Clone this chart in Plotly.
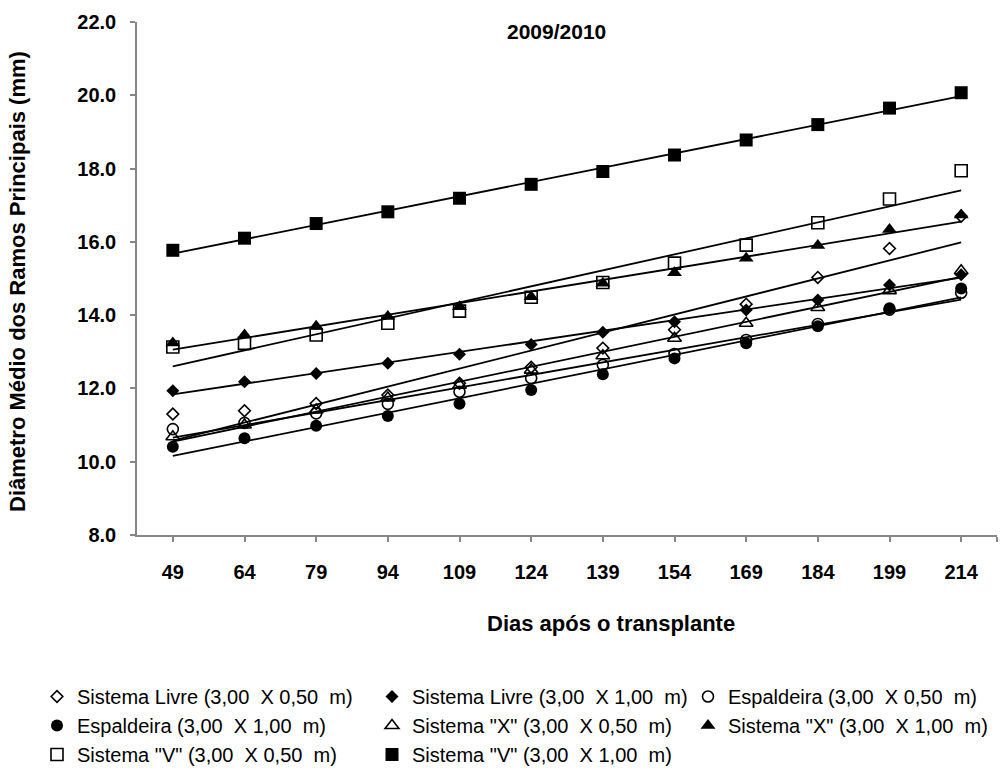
import numpy as np
import plotly.graph_objects as go

# ---------------- data ----------------
days = [49, 64, 79, 94, 109, 124, 139, 154, 169, 184, 199, 214]
day_labels = [str(d) for d in days]

livre_050 = [11.30, 11.39, 11.59, 11.82, 12.14, 12.58, 13.10, 13.60, 14.30, 15.03, 15.82, 16.70]
livre_100 = [11.94, 12.18, 12.41, 12.69, 12.93, 13.20, 13.53, 13.82, 14.14, 14.41, 14.82, 15.10]
esp_050 = [10.89, 11.06, 11.32, 11.58, 11.91, 12.28, 12.64, 12.94, 13.32, 13.76, 14.15, 14.61]
esp_100 = [10.41, 10.64, 10.98, 11.25, 11.58, 11.96, 12.39, 12.82, 13.23, 13.70, 14.19, 14.73]
x_050 = [10.68, 11.00, 11.41, 11.74, 12.09, 12.50, 12.89, 13.37, 13.78, 14.21, 14.67, 15.21]
x_100 = [13.24, 13.46, 13.70, 13.96, 14.23, 14.50, 14.87, 15.16, 15.55, 15.90, 16.34, 16.73]
v_050 = [13.13, 13.23, 13.46, 13.78, 14.11, 14.49, 14.89, 15.42, 15.91, 16.52, 17.17, 17.94]
v_100 = [15.77, 16.10, 16.50, 16.82, 17.19, 17.57, 17.92, 18.37, 18.78, 19.20, 19.65, 20.07]

series_names = [
    'Sistema Livre (3,00  X 0,50  m)',
    'Sistema Livre (3,00  X 1,00  m)',
    'Espaldeira (3,00  X 0,50  m)',
    'Espaldeira (3,00  X 1,00  m)',
    'Sistema "X" (3,00  X 0,50  m)',
    'Sistema "X" (3,00  X 1,00  m)',
    'Sistema "V" (3,00  X 0,50  m)',
    'Sistema "V" (3,00  X 1,00  m)',
]
series_values = [livre_050, livre_100, esp_050, esp_100, x_050, x_100, v_050, v_100]

y_ticks = [8, 10, 12, 14, 16, 18, 20, 22]

# ---------------- styles ----------------
symbols = ['diamond-open', 'diamond', 'circle-open', 'circle',
           'triangle-up-open', 'triangle-up', 'square-open', 'square']
sizes = [9, 10, 11, 12, 12, 13, 12, 13]
legend_ids = ['legend', 'legend2', 'legend3', 'legend', 'legend2', 'legend3', 'legend', 'legend2']

FONT = 'Liberation Sans, Arial, sans-serif'
AXIS_GRAY = '#868686'

fig = go.Figure()

x_arr = np.array(days, dtype=float)
# trend lines (linear fits)
for vals in series_values:
    coef = np.polyfit(x_arr, np.array(vals), 1)
    xs = [days[0], days[-1]]
    ys = [float(np.polyval(coef, days[0])), float(np.polyval(coef, days[-1]))]
    fig.add_trace(go.Scatter(x=xs, y=ys, mode='lines',
                             line=dict(color='black', width=1.8),
                             showlegend=False, hoverinfo='skip'))

# markers
for name, vals, sym, sz, lg in zip(series_names, series_values, symbols, sizes, legend_ids):
    is_open = sym.endswith('-open')
    fig.add_trace(go.Scatter(
        x=days, y=vals, mode='markers', name=name, legend=lg,
        marker=dict(symbol=sym, size=sz, color='black',
                    line=dict(color='black', width=1.6 if is_open else 0)),
    ))

fig.update_layout(
    width=1000, height=772,
    margin=dict(l=137, r=3, t=22, b=237, autoexpand=False),
    paper_bgcolor='white', plot_bgcolor='white',
    font=dict(family=FONT, color='black'),
    showlegend=True,
)

fig.update_xaxes(
    range=[41.5, 221.5],
    tickvals=days + [221.5], ticktext=day_labels + [''],
    ticks='outside', ticklen=5, tickwidth=1.5, tickcolor=AXIS_GRAY,
    showline=True, linecolor=AXIS_GRAY, linewidth=1.5,
    showgrid=False, zeroline=False,
    tickfont=dict(family=FONT, size=20, color='black', weight='bold'),
    ticklabelstandoff=13,
)
fig.update_yaxes(
    range=[8, 22], tickvals=y_ticks, tickformat='.1f',
    ticks='outside', ticklen=5, tickwidth=1.5, tickcolor=AXIS_GRAY,
    showline=True, linecolor=AXIS_GRAY, linewidth=1.5,
    showgrid=False, zeroline=False,
    tickfont=dict(family=FONT, size=20, color='black', weight='bold'),
    ticklabelstandoff=10,
)

# titles
fig.add_annotation(text='<b>2009/2010</b>', xref='paper', yref='paper',
                   x=(556 - 137) / 860, y=(535 - 31) / 513, showarrow=False,
                   xanchor='center', yanchor='middle',
                   font=dict(family=FONT, size=21, color='black'))
fig.add_annotation(text='<b>Dias após o transplante</b>', xref='paper', yref='paper',
                   x=(611 - 137) / 860, y=(535 - 623) / 513, showarrow=False,
                   xanchor='center', yanchor='middle',
                   font=dict(family=FONT, size=22, color='black'))
fig.add_annotation(text='<b>Diâmetro Médio dos Ramos Principais (mm)</b>', xref='paper', yref='paper',
                   x=(17 - 137) / 860, y=(535 - 282) / 513, showarrow=False, textangle=-90,
                   xanchor='center', yanchor='middle',
                   font=dict(family=FONT, size=22, color='black'))

leg_common = dict(xref='container', yref='container', xanchor='left', yanchor='top',
                  orientation='v', bgcolor='rgba(0,0,0,0)', borderwidth=0,
                  font=dict(family=FONT, size=20, color='black'),
                  itemsizing='trace', tracegroupgap=0)
top_y = 1 - 677 / 772
fig.update_layout(
    legend=dict(x=0.037, y=top_y, **leg_common),
    legend2=dict(x=0.372, y=top_y, **leg_common),
    legend3=dict(x=0.688, y=top_y, **leg_common),
)

fig.write_html('out.html')
